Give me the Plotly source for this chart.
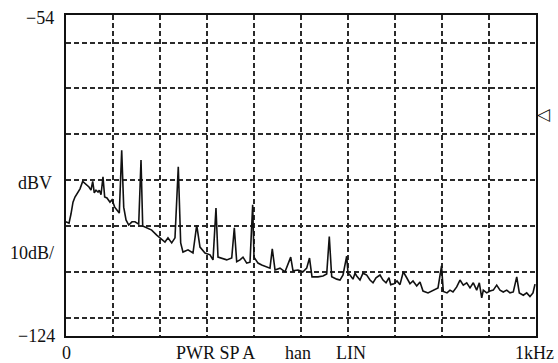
import plotly.graph_objects as go

# Spectrum trace: frequency (Hz) and level (dBV)
freq_hz = [0, 6.4, 10.6, 14.9, 19.1, 25.5, 29.8, 35.5, 42.6, 48.9, 53.2, 56.8, 60.2, 63.8, 68.1,
           70.9, 74.5, 78.7, 82.3, 87.2, 93.6, 97.9, 103.6, 108.5, 113.4, 118.5, 122.8, 127.7,
           133.4, 140.4, 146.8, 154.7, 159.6, 163.2, 171.7, 182.3, 193.0, 200.0, 210.6, 217.0,
           224.9, 231.9, 238.9, 244.0, 248.9, 259.6, 270.2, 278.1, 285.1, 295.7, 306.4, 312.8,
           319.1, 323.4, 331.3, 341.9, 352.6, 358.1, 363.2, 370.2, 376.6, 384.5, 391.5, 397.2,
           400.0, 408.5, 416.4, 427.0, 434.0, 438.9, 444.7, 455.3, 466.0, 478.1, 483.0, 493.6,
           504.3, 512.1, 518.1, 523.4, 536.2, 546.8, 554.7, 560.2, 565.3, 576.0, 583.0, 589.4,
           597.2, 600.0, 604.3, 610.6, 614.9, 618.5, 625.5, 631.9, 639.8, 646.8, 653.2, 659.6,
           668.1, 674.5, 680.9, 687.2, 690.9, 697.9, 704.3, 710.6, 717.7, 724.9, 731.9, 738.3,
           746.2, 753.2, 759.6, 770.2, 780.9, 791.5, 799.0, 802.8, 810.6, 817.0, 823.4, 831.3,
           838.3, 845.3, 852.6, 859.6, 866.6, 873.8, 879.4, 884.5, 887.9, 895.1, 902.1, 909.1,
           916.4, 923.4, 930.4, 937.7, 944.7, 951.7, 959.0, 964.5, 973.0, 980.2, 987.2, 993.6,
           997.9]
level_dbv = [-99.1, -99.4, -97.4, -94.8, -93.7, -92.6, -91.9, -90.3, -90.9, -91.5, -92.2, -90.3,
             -92.8, -92.2, -92.6, -92.2, -93.2, -89.3, -93.7, -93.9, -94.8, -94.3, -95.9, -96.5,
             -97.2, -83.5, -95.9, -98.7, -99.8, -99.1, -99.1, -99.6, -85.6, -100.0, -100.4,
             -100.9, -102.0, -102.6, -103.5, -102.6, -103.7, -102.6, -87.1, -103.7, -105.7,
             -105.2, -105.9, -99.8, -104.6, -105.9, -106.3, -107.4, -96.1, -106.8, -107.0,
             -107.4, -107.0, -100.4, -107.8, -107.4, -106.8, -108.1, -107.9, -95.4, -106.8,
             -108.1, -108.5, -108.9, -109.2, -105.0, -109.6, -109.2, -110.0, -106.8, -109.8,
             -109.6, -110.0, -109.2, -107.0, -111.1, -111.1, -110.9, -110.5, -102.3, -111.1,
             -111.6, -111.8, -110.7, -106.6, -110.3, -110.7, -111.6, -110.3, -110.9, -111.8,
             -110.3, -110.7, -111.8, -112.4, -111.3, -110.7, -111.8, -112.4, -111.3, -112.8,
             -112.6, -112.0, -112.8, -110.0, -111.3, -112.6, -112.0, -113.1, -112.2, -114.2,
             -114.6, -114.0, -113.5, -108.7, -114.3, -114.6, -114.0, -114.4, -113.3, -111.8,
             -112.9, -112.4, -113.5, -112.4, -114.0, -112.4, -115.7, -114.0, -114.6, -114.2,
             -114.0, -112.9, -114.0, -114.4, -114.0, -114.6, -114.4, -111.1, -114.6, -115.1,
             -114.6, -115.4, -114.6, -112.7]

x_grid = [100, 200, 300, 400, 500, 600, 700, 800, 900]
y_grid = [-60, -70, -80, -90, -100, -110, -120]
y_top, y_bottom = -54, -124
ref_marker_level = -75.6

FONT = "Liberation Serif, Times New Roman, serif"
INK = "#111111"

fig = go.Figure()
fig.add_trace(go.Scatter(x=freq_hz, y=level_dbv, mode="lines",
                         line=dict(color=INK, width=1.6), showlegend=False,
                         hoverinfo="skip"))

fig.update_xaxes(range=[0, 1000], tickvals=x_grid, showticklabels=False, ticks="",
                 showgrid=True, gridcolor="#2a2a2a", gridwidth=1.6, griddash="5px,3px",
                 showline=True, linecolor=INK, linewidth=1.5, mirror=True, zeroline=False)
fig.update_yaxes(range=[y_bottom, y_top], tickvals=y_grid, showticklabels=False, ticks="",
                 showgrid=True, gridcolor="#2a2a2a", gridwidth=1.6, griddash="5px,3px",
                 showline=True, linecolor=INK, linewidth=1.5, mirror=True, zeroline=False)

fs = 18
anns = [
    dict(text="\u221254", x=0, xref="paper", y=y_top, yref="y", xanchor="right", xshift=-10, yshift=-3),
    dict(text="\u2212124", x=0, xref="paper", y=y_bottom, yref="y", xanchor="right", xshift=-9),
    dict(text="dBV", x=0, xref="paper", y=-90.6, yref="y", xanchor="right", xshift=-12),
    dict(text="10dB/", x=0, xref="paper", y=-105.9, yref="y", xanchor="right", xshift=-10),
    dict(text="0", x=0, xref="x", y=0, yref="paper", yanchor="middle", yshift=-17),
    dict(text="PWR SP A", x=319, xref="x", y=0, yref="paper", yanchor="middle", yshift=-17),
    dict(text="han", x=494, xref="x", y=0, yref="paper", yanchor="middle", yshift=-17),
    dict(text="LIN", x=606, xref="x", y=0, yref="paper", yanchor="middle", yshift=-17),
    dict(text="1kHz", x=996, xref="x", y=0, yref="paper", yanchor="middle", yshift=-17),
]
for a in anns:
    a.update(showarrow=False, font=dict(family=FONT, size=fs, color=INK))
    fig.add_annotation(**a)

# reference-level marker on the right edge
fig.add_annotation(text="\u25c1", x=1, xref="paper", y=ref_marker_level, yref="y",
                   xanchor="left", xshift=-1, showarrow=False,
                   font=dict(family="DejaVu Sans", size=17, color=INK))

fig.update_layout(width=558, height=363, margin=dict(l=66, r=22, t=15, b=27),
                  paper_bgcolor="white", plot_bgcolor="white")

fig.write_html("out.html")
